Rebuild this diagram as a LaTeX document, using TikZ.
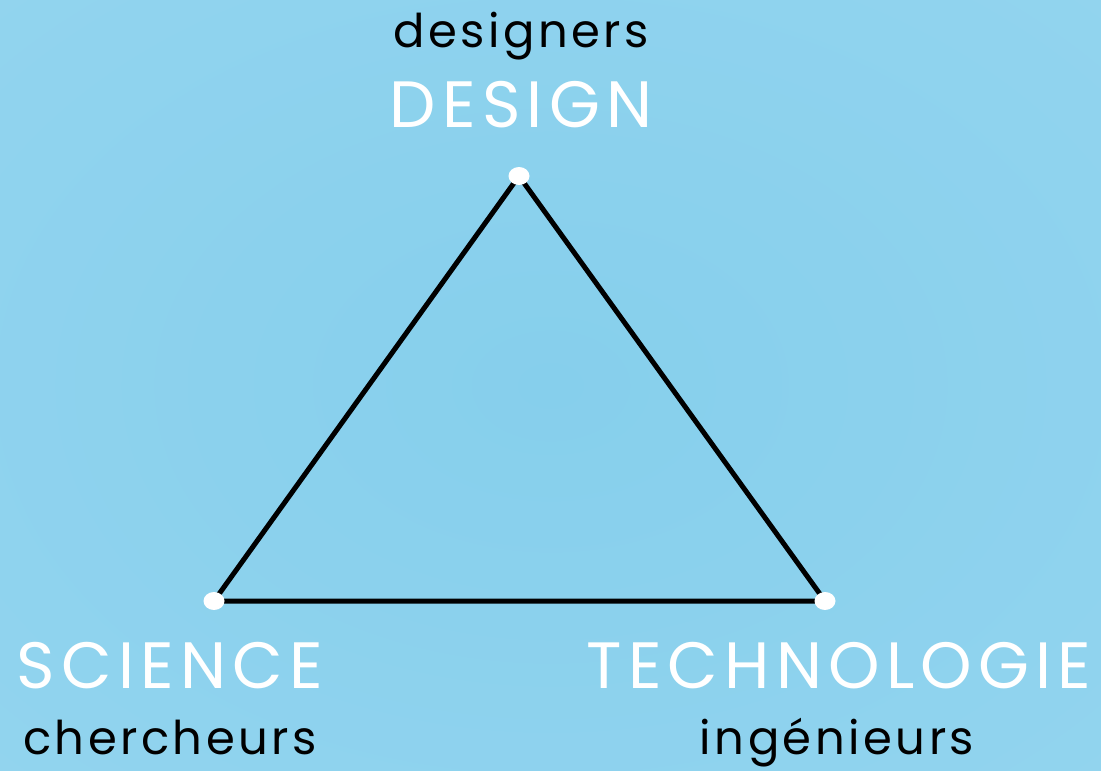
\documentclass[tikz,border=0pt]{standalone}
\usepackage{fontspec}
\setmainfont{Poppins}
\usetikzlibrary{shapes.geometric}
\definecolor{bgin}{RGB}{134,207,236}
\definecolor{bgout}{RGB}{158,217,241}
\pgfdeclareradialshading{bgshade}{\pgfpoint{0bp}{0bp}}{color(0bp)=(bgin); color(72bp)=(bgout)}
\tikzset{
  captext/.style={anchor=base, inner sep=0pt, text=white, font=\fontsize{65.5}{66}\selectfont\addfontfeatures{LetterSpace=9.5}},
  subtext/.style={anchor=base, inner sep=0pt, text=black, font=\fontsize{46.5}{47}\selectfont\addfontfeatures{LetterSpace=7.5}},
  vertex/.style={ellipse, fill=white, minimum width=21pt, minimum height=18pt, inner sep=0pt},
  triline/.style={line width=5pt, black}
}
\begin{document}
\begin{tikzpicture}[x=1pt,y=-1pt]
\useasboundingbox (0,0) rectangle (1101,771);
\shade[shading=bgshade] (0,0) rectangle (1101,771);
\node[subtext] (designers) at (521,47) {designers};
\node[captext] (design) at (521,127) {DESIGN};
\node[captext] (science) at (170,688) {SCIENCE};
\node[subtext] (chercheurs) at (170,754) {chercheurs};
\node[captext] (techno) at (839,688) {TECHNOLOGIE};
\node[subtext] (ingenieurs) at (837,754) {ingénieurs};
\coordinate (T) at (519,176);
\coordinate (L) at (214,601);
\coordinate (R) at (825,601);
\draw[triline] (T) -- (L) -- (R) -- cycle;
\node[vertex] (dT) at (T) {};
\node[vertex] (dL) at (L) {};
\node[vertex] (dR) at (R) {};
\end{tikzpicture}
\end{document}
